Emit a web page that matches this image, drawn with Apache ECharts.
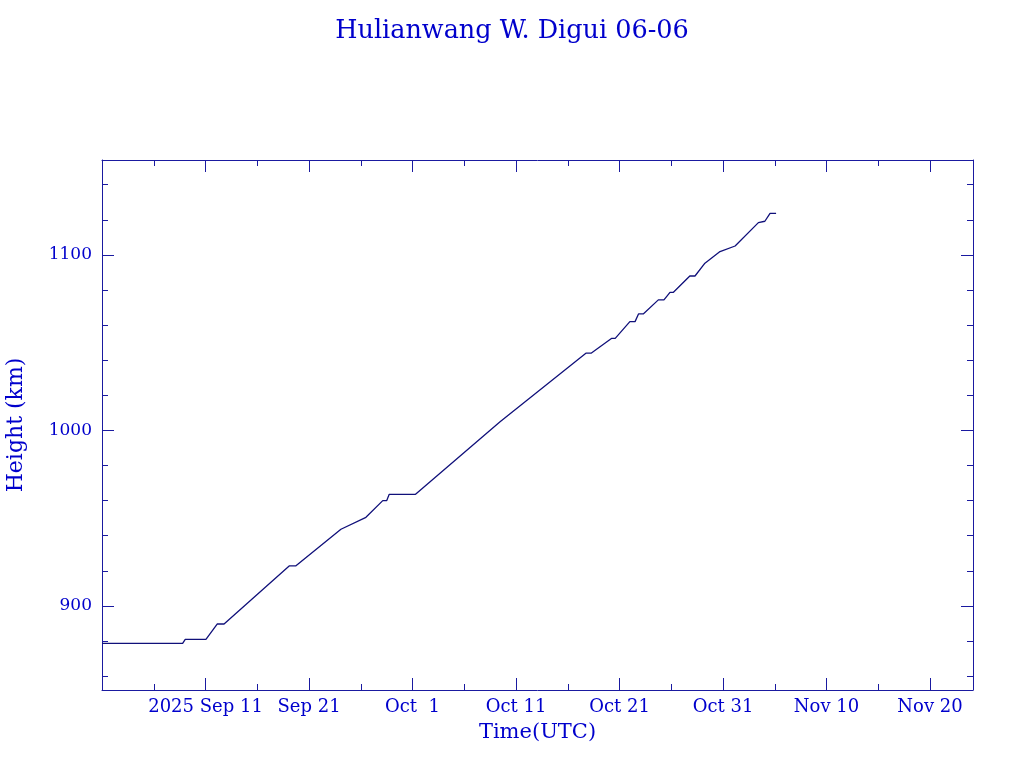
<!DOCTYPE html>
<html><head><meta charset="utf-8">
<script src="https://cdn.jsdelivr.net/npm/echarts@6/dist/echarts.min.js"></script>
<style>html,body{margin:0;background:#fff}#c{width:1024px;height:768px}</style>
</head><body><div id="c"></div>
<script>
const titleText = 'Hulianwang W. Digui 06-06';
const times = ['2025-09-01T00:00Z','2025-09-08T19:00Z','2025-09-09T01:00Z','2025-09-11T01:00Z','2025-09-12T03:00Z','2025-09-12T19:00Z','2025-09-19T02:00Z','2025-09-19T17:00Z','2025-09-24T02:00Z','2025-09-26T12:00Z','2025-09-28T03:00Z','2025-09-28T12:00Z','2025-09-28T18:00Z','2025-10-01T07:00Z','2025-10-09T11:00Z','2025-10-17T18:00Z','2025-10-18T06:00Z','2025-10-20T06:00Z','2025-10-20T14:00Z','2025-10-22T00:00Z','2025-10-22T12:00Z','2025-10-22T20:00Z','2025-10-23T07:00Z','2025-10-24T18:00Z','2025-10-25T07:00Z','2025-10-25T21:00Z','2025-10-26T05:00Z','2025-10-27T19:00Z','2025-10-28T07:00Z','2025-10-29T06:00Z','2025-10-30T17:00Z','2025-11-01T04:00Z','2025-11-03T10:00Z','2025-11-04T01:00Z','2025-11-04T13:00Z','2025-11-05T03:00Z'];
const heights = [878.7,878.7,881.0,881.0,889.7,889.7,922.8,922.8,943.7,950.5,960.0,960.0,963.6,963.6,1005.0,1044.0,1044.0,1052.5,1052.5,1062.0,1062.0,1066.4,1066.4,1074.4,1074.4,1078.7,1078.7,1088.0,1088.0,1095.3,1101.9,1105.1,1118.4,1119.2,1123.7,1123.7];
const xMajorTicks = ['2025-09-11','2025-09-21','2025-10-01','2025-10-11','2025-10-21','2025-10-31','2025-11-10','2025-11-20'];
const xMajorLabels = ['2025 Sep 11','Sep 21','Oct  1','Oct 11','Oct 21','Oct 31','Nov 10','Nov 20'];
const xMinorTicks = ['2025-09-06','2025-09-16','2025-09-26','2025-10-06','2025-10-16','2025-10-26','2025-11-05','2025-11-15'];
const yMajorTicks = [900,1000,1100];
const yMinorTicks = [860,880,920,940,960,980,1020,1040,1060,1080,1120,1140];
const xRangeStart = '2025-09-01T00:00Z';
const xRangeDays = 84.15;
const yMin = 852.1, yMax = 1154.1;

const DAY = 86400000;
const t0 = Date.parse(xRangeStart);
const tMax = t0 + xRangeDays * DAY;
const ms = s => Date.parse(s.length === 10 ? s + 'T00:00Z' : s);
const majX = xMajorTicks.map(ms);
const minX = xMinorTicks.map(ms);
const data = times.map((t, i) => [ms(t), heights[i]]);

const TXT = '#0000cc', AX = '#1a1aa0', LN = '#10107a';
const FONT = 'DejaVu Serif';

function xAxisDef(pos, ticks, len, withLine, withLabels) {
  return {
    type: 'value', position: pos, min: t0, max: tMax,
    axisLine: { show: withLine, onZero: false, lineStyle: { color: AX, width: 1 } },
    axisTick: { show: true, inside: true, length: len, customValues: ticks, lineStyle: { color: AX, width: 1 } },
    axisLabel: withLabels ? {
      show: true, customValues: majX, margin: 8, color: TXT, fontFamily: FONT, fontSize: 18,
      formatter: v => { const i = majX.findIndex(m => Math.abs(m - v) < 1000); return i >= 0 ? xMajorLabels[i] : ''; }
    } : { show: false },
    splitLine: { show: false },
    name: withLabels ? 'Time(UTC)' : '', nameLocation: 'middle', nameGap: 32,
    nameTextStyle: { color: TXT, fontFamily: FONT, fontSize: 21 }
  };
}
function yAxisDef(pos, ticks, len, withLine, withLabels) {
  return {
    type: 'value', position: pos, min: yMin, max: yMax,
    axisLine: { show: withLine, onZero: false, lineStyle: { color: AX, width: 1 } },
    axisTick: { show: true, inside: true, length: len, customValues: ticks, lineStyle: { color: AX, width: 1 } },
    axisLabel: withLabels ? {
      show: true, customValues: yMajorTicks, margin: 10, color: TXT, fontFamily: FONT, fontSize: 17,
      formatter: v => String(Math.round(v))
    } : { show: false },
    splitLine: { show: false },
    name: withLabels ? 'Height (km)' : '', nameLocation: 'middle', nameGap: 75, nameRotate: 90,
    nameTextStyle: { color: TXT, fontFamily: FONT, fontSize: 22 }
  };
}

const chart = echarts.init(document.getElementById('c'), null, { renderer: 'canvas' });
chart.setOption({
  backgroundColor: '#ffffff',
  animation: false,
  title: { text: titleText, left: 'center', top: 13, textStyle: { color: TXT, fontFamily: FONT, fontSize: 25.5, fontWeight: 'normal' } },
  grid: { left: 102, top: 160, right: 51, bottom: 78, containLabel: false, outerBoundsMode: 'none' },
  xAxis: [
    xAxisDef('bottom', majX, 12, true, true),
    xAxisDef('bottom', minX, 6, false, false),
    xAxisDef('top', majX, 12, true, false),
    xAxisDef('top', minX, 6, false, false)
  ],
  yAxis: [
    yAxisDef('left', yMajorTicks, 12, true, true),
    yAxisDef('left', yMinorTicks, 6, false, false),
    yAxisDef('right', yMajorTicks, 12, true, false),
    yAxisDef('right', yMinorTicks, 6, false, false)
  ],
  series: [{
    type: 'line', xAxisIndex: 0, yAxisIndex: 0, data: data, showSymbol: false, symbol: 'none',
    lineStyle: { color: LN, width: 1.3 }, silent: true
  }]
});
</script></body></html>
